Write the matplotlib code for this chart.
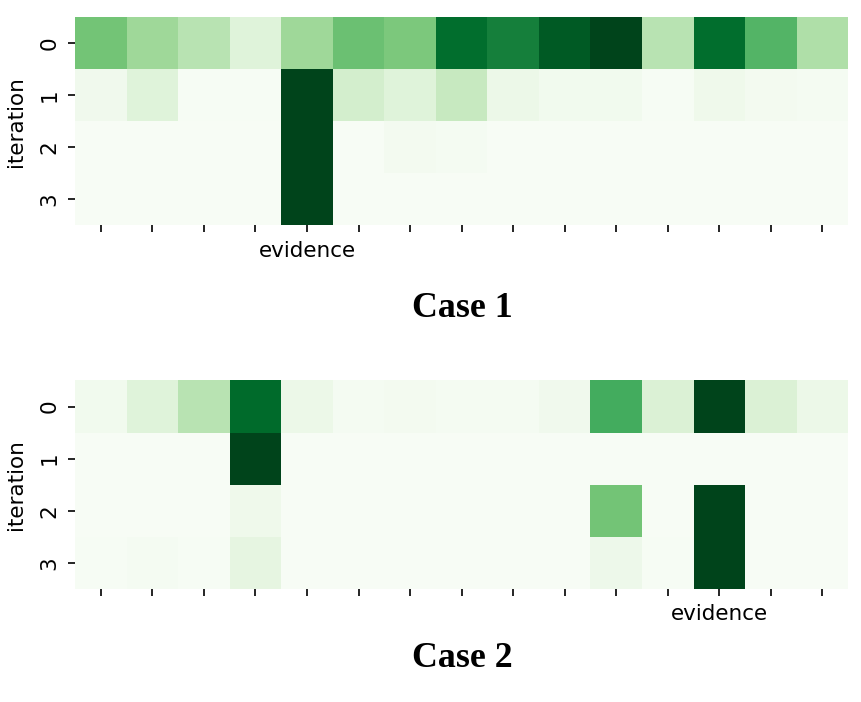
import numpy as np
import matplotlib
matplotlib.use("Agg")
import matplotlib.pyplot as plt
import seaborn as sns

# attention weights per iteration (rows) over the 15 tokens (columns)
case1_iter0 = [0.50, 0.38, 0.30, 0.15, 0.38, 0.52, 0.48, 0.87, 0.80, 0.93, 1.00, 0.30, 0.87, 0.58, 0.33]
case1_iter1 = [0.05, 0.15, 0.01, 0.01, 1.00, 0.20, 0.15, 0.25, 0.08, 0.04, 0.04, 0.01, 0.06, 0.03, 0.02]
case1_iter2 = [0.00, 0.00, 0.00, 0.00, 1.00, 0.00, 0.03, 0.02, 0.00, 0.00, 0.00, 0.00, 0.00, 0.00, 0.00]
case1_iter3 = [0.00, 0.00, 0.00, 0.00, 1.00, 0.00, 0.00, 0.00, 0.00, 0.00, 0.00, 0.00, 0.00, 0.00, 0.00]

case2_iter0 = [0.04, 0.15, 0.30, 0.88, 0.08, 0.02, 0.03, 0.02, 0.02, 0.05, 0.62, 0.17, 1.00, 0.17, 0.08]
case2_iter1 = [0.00, 0.00, 0.00, 1.00, 0.00, 0.00, 0.00, 0.00, 0.00, 0.00, 0.00, 0.00, 0.00, 0.00, 0.00]
case2_iter2 = [0.00, 0.00, 0.00, 0.06, 0.00, 0.00, 0.00, 0.00, 0.00, 0.00, 0.50, 0.00, 1.00, 0.00, 0.00]
case2_iter3 = [0.01, 0.02, 0.01, 0.12, 0.00, 0.00, 0.00, 0.00, 0.00, 0.00, 0.07, 0.01, 1.00, 0.00, 0.00]

iterations = ["0", "1", "2", "3"]
case1_labels = ["", "", "", "", "evidence", "", "", "", "", "", "", "", "", "", ""]
case2_labels = ["", "", "", "", "", "", "", "", "", "", "", "", "evidence", "", ""]
titles = ["Case 1", "Case 2"]


def draw_case(ax, rows, xlabels):
    data = np.array(rows)
    sns.heatmap(data, ax=ax, cmap="Greens", vmin=0, vmax=1, cbar=False,
                xticklabels=xlabels, yticklabels=iterations)
    ax.set_ylabel("iteration", fontsize=15.5, labelpad=10)
    ax.tick_params(axis="x", labelsize=15.5, rotation=0, length=5, width=1.2, pad=6)
    ax.tick_params(axis="y", labelsize=15.5, rotation=90, length=5, width=1.2, pad=6)
    for lbl in ax.get_yticklabels():
        lbl.set_va("center")


fig = plt.figure(figsize=(8.62, 7.02), dpi=100)
ax1 = fig.add_axes([0.087, 0.679, 0.897, 0.297])
ax2 = fig.add_axes([0.087, 0.161, 0.897, 0.297])

draw_case(ax1, [case1_iter0, case1_iter1, case1_iter2, case1_iter3], case1_labels)
draw_case(ax2, [case2_iter0, case2_iter1, case2_iter2, case2_iter3], case2_labels)

fig.text(0.536, 0.560, titles[0], ha="center", va="center",
         fontsize=25.8, fontweight="bold", family="Liberation Serif")
fig.text(0.536, 0.062, titles[1], ha="center", va="center",
         fontsize=25.8, fontweight="bold", family="Liberation Serif")

fig.savefig("out.png", dpi=100, facecolor="white")
